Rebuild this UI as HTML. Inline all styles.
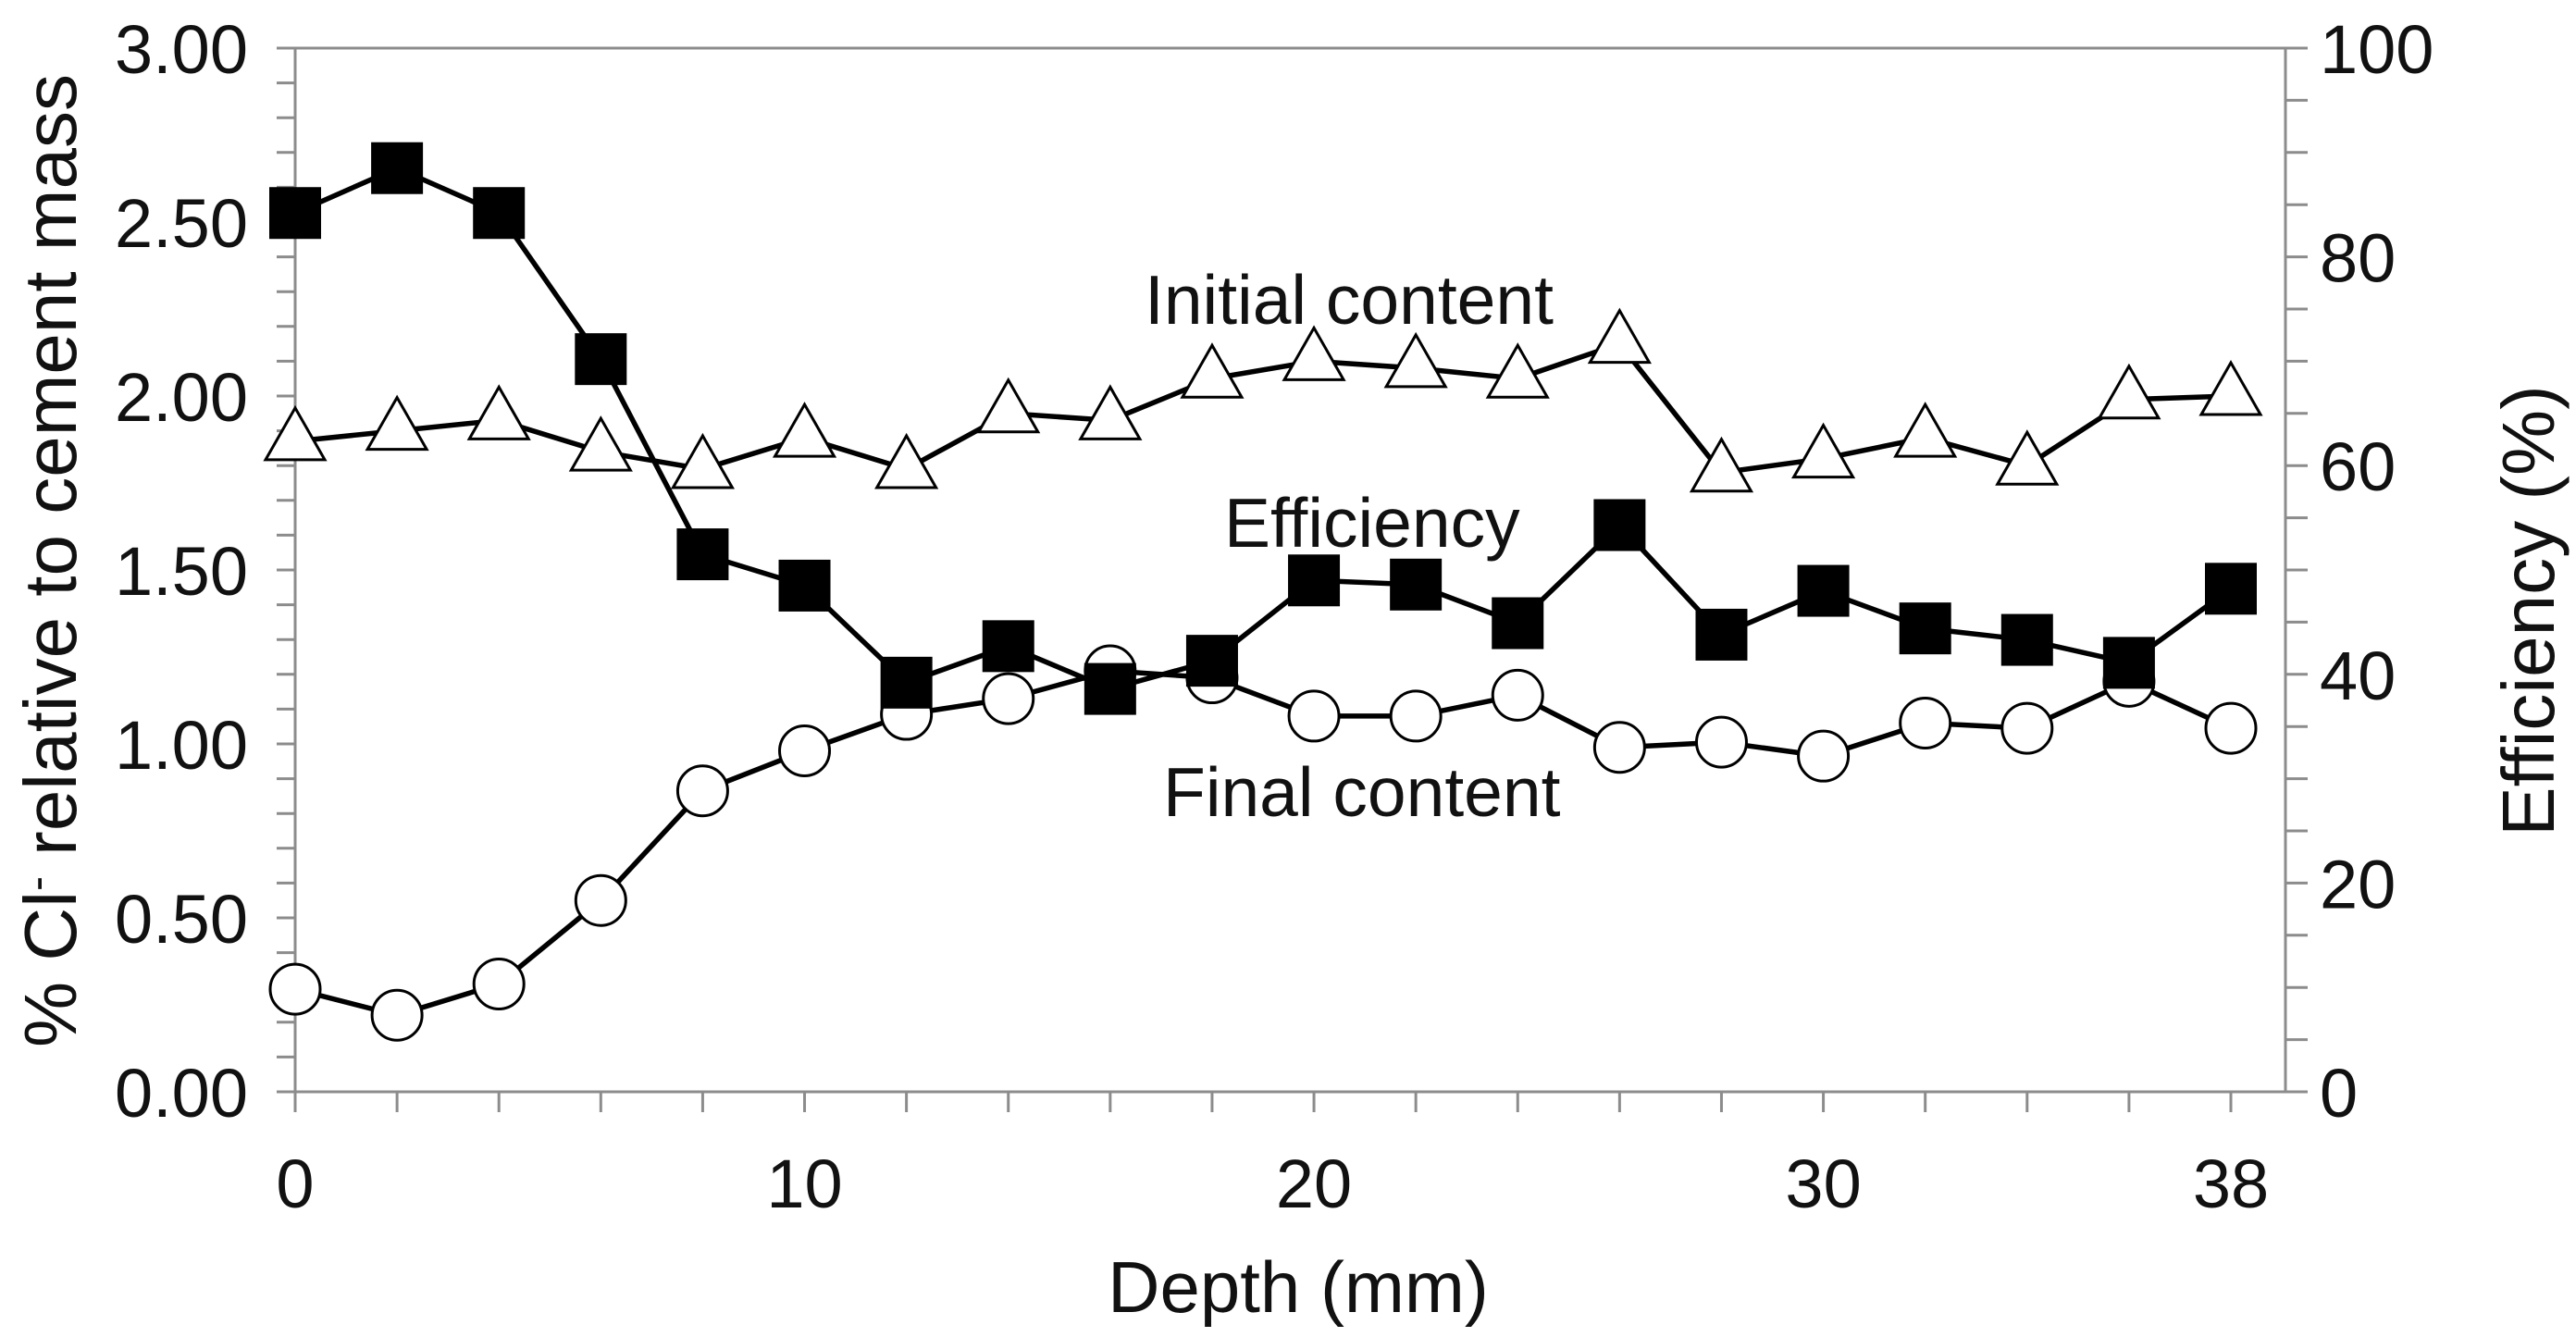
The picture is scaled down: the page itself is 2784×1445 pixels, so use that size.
<!DOCTYPE html>
<html><head><meta charset="utf-8"><style>
html,body{margin:0;padding:0;background:#fff;}
svg{display:block;font-family:"Liberation Sans",Calibri,sans-serif;}
</style></head><body>
<svg id="chart" width="2784" height="1445" viewBox="0 0 2784 1445">
<g id="axes"></g>
<g id="series"></g>
<text x="1403" y="1418" font-size="78" text-anchor="middle" fill="#111">Depth (mm)</text>
<text transform="translate(82,606) rotate(-90)" font-size="80" text-anchor="middle" fill="#111">% Cl<tspan dy="-26" font-size="48">-</tspan><tspan dy="26"> relative to cement mass</tspan></text>
<text transform="translate(2760,660) rotate(-90)" font-size="80" text-anchor="middle" fill="#111">Efficiency (%)</text>
<text x="1237" y="350" font-size="75" fill="#111">Initial content</text>
<text x="1323" y="591" font-size="75" fill="#111">Efficiency</text>
<text x="1257" y="882" font-size="75" fill="#111">Final content</text>
</svg>
<script>
const depths=[0,2,4,6,8,10,12,14,16,18,20,22,24,26,28,30,32,34,36,38];
const initialContent=[1.87,1.90,1.93,1.84,1.79,1.88,1.79,1.95,1.93,2.05,2.10,2.08,2.05,2.15,1.78,1.82,1.88,1.80,1.99,2.00];
const finalContent=[0.295,0.22,0.31,0.55,0.865,0.98,1.085,1.13,1.21,1.19,1.08,1.08,1.14,0.99,1.005,0.965,1.06,1.045,1.18,1.045];
const efficiency=[84.2,88.5,84.2,70.2,51.5,48.5,39.2,42.7,38.6,41.3,49.0,48.6,44.9,54.3,43.8,48.0,44.4,43.3,41.1,48.2];
const leftTicks=["0.00","0.50","1.00","1.50","2.00","2.50","3.00"];
const rightTicks=["0","20","40","60","80","100"];
const xTickLabels=[0,10,20,30,38];

const NS="http://www.w3.org/2000/svg";
const L=319,R=2470,T=52,B=1180;
const X0=319,XS=(2411-319)/38;
const xs=d=>X0+d*XS;
const yl=v=>B-(v/3)*(B-T);
const yr=v=>B-(v/100)*(B-T);
const axes=document.getElementById('axes'),ser=document.getElementById('series');
function mk(tag,attrs,parent){const e=document.createElementNS(NS,tag);for(const k in attrs)e.setAttribute(k,attrs[k]);parent.appendChild(e);return e;}
const g='#8c8c8c';
let e;
e=mk('rect',{x:L,y:T,width:R-L,height:B-T,fill:'none',stroke:g,'stroke-width':3},axes);


for(let i=0;i<=30;i++){const y=yl(i*0.1);e=mk('line',{x1:L-20,x2:L,y1:y,y2:y,stroke:g,'stroke-width':3},axes);

}
for(let i=0;i<=20;i++){const y=yr(i*5);e=mk('line',{x1:R,x2:R+24,y1:y,y2:y,stroke:g,'stroke-width':3},axes);

}
for(let d=0;d<=38;d+=2){const x=xs(d);e=mk('line',{x1:x,x2:x,y1:B,y2:B+22,stroke:g,'stroke-width':3},axes);

}
leftTicks.forEach(t=>{e=mk('text',{x:268,y:yl(parseFloat(t))+27,'font-size':74,'text-anchor':'end',fill:'#111'},axes);e.textContent=t;

});
rightTicks.forEach(t=>{e=mk('text',{x:2507,y:yr(parseFloat(t))+27,'font-size':74,'text-anchor':'start',fill:'#111'},axes);e.textContent=t;

});
xTickLabels.forEach(t=>{e=mk('text',{x:xs(t),y:1305,'font-size':74,'text-anchor':'middle',fill:'#111'},axes);e.textContent=t;

});
function line(pts,name){e=mk('polyline',{points:pts.map(p=>p.join(',')).join(' '),fill:'none',stroke:'#000','stroke-width':5.5},ser);

}
const pi=depths.map((d,i)=>[xs(d),yl(initialContent[i])]);
const pf=depths.map((d,i)=>[xs(d),yl(finalContent[i])]);
const pe=depths.map((d,i)=>[xs(d),yr(efficiency[i])]);
line(pf,'final-content-line');
line(pi,'initial-content-line');
line(pe,'efficiency-line');
pf.forEach(p=>{e=mk('circle',{cx:p[0],cy:p[1],r:27,fill:'#fff',stroke:'#000','stroke-width':3},ser);

});
pi.forEach(p=>{const [x,y]=p;e=mk('polygon',{points:`${x},${y-36} ${x-32},${y+20} ${x+32},${y+20}`,fill:'#fff',stroke:'#000','stroke-width':3},ser);

});
pe.forEach(p=>{e=mk('rect',{x:p[0]-28,y:p[1]-28,width:56,height:56,fill:'#000'},ser);

});
</script>
</body></html>
